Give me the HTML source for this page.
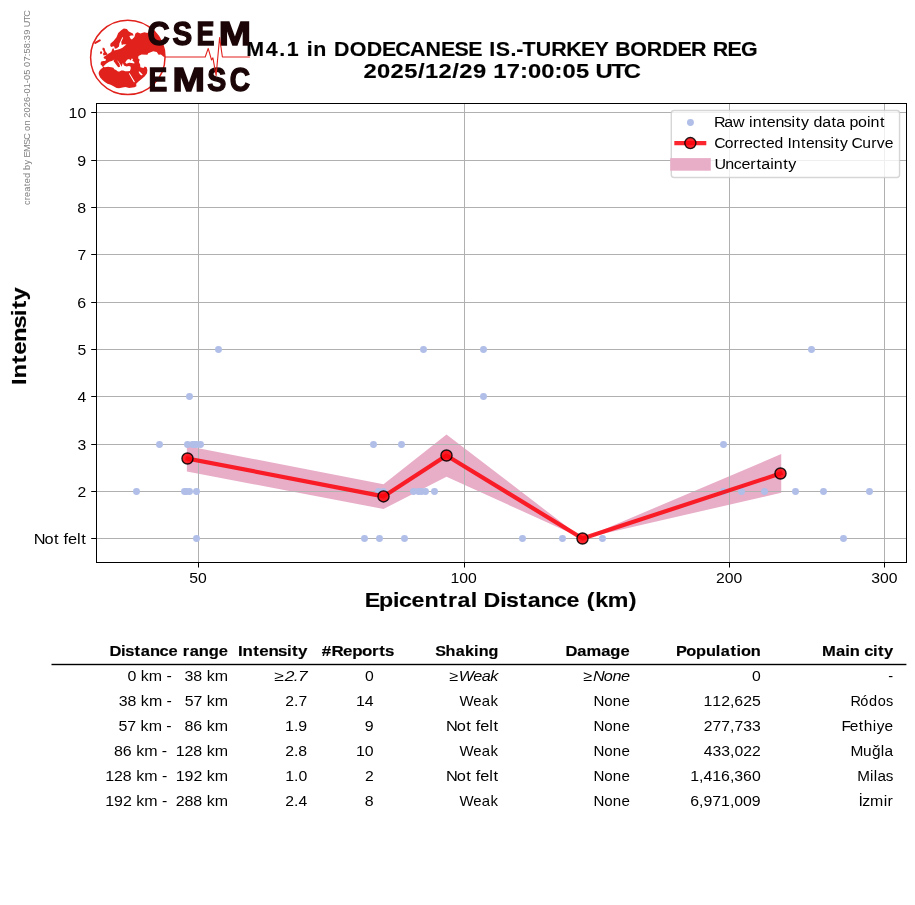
<!DOCTYPE html>
<html lang="en"><head><meta charset="utf-8"><title>M4.1 DODECANESE IS.-TURKEY BORDER REG</title>
<style>html,body{margin:0;padding:0;background:#fff;overflow:hidden}svg{display:block;will-change:transform}text{font-family:"Liberation Sans",sans-serif;white-space:pre}</style></head><body>
<svg width="915" height="905" viewBox="0 0 915 905">
<rect width="915" height="905" fill="#fff"/>
<g id="plot">
<polygon fill="#e8aec8" points="186.85,446.00 383.50,484.20 446.50,434.60 582.50,538.50 781.25,454.10 781.25,492.75 582.50,538.50 446.50,476.70 383.50,509.10 186.85,471.50"/>
<path d="M96.5 112.5H906.5M96.5 160.5H906.5M96.5 207.5H906.5M96.5 254.5H906.5M96.5 302.5H906.5M96.5 349.5H906.5M96.5 396.5H906.5M96.5 444.5H906.5M96.5 491.5H906.5M96.5 538.5H906.5M198.5 103.5V562.5M464.5 103.5V562.5M729.5 103.5V562.5M884.5 103.5V562.5" stroke="#b0b0b0" stroke-width="1" fill="none" shape-rendering="crispEdges"/>
<g fill="#b0bee8">
<circle cx="218.50" cy="349.5" r="3.45"/>
<circle cx="423.50" cy="349.5" r="3.45"/>
<circle cx="483.50" cy="349.5" r="3.45"/>
<circle cx="811.50" cy="349.5" r="3.45"/>
<circle cx="189.50" cy="396.5" r="3.45"/>
<circle cx="483.50" cy="396.5" r="3.45"/>
<circle cx="159.50" cy="444.5" r="3.45"/>
<circle cx="187.50" cy="444.5" r="3.45"/>
<circle cx="192.50" cy="444.5" r="3.45"/>
<circle cx="194.50" cy="444.5" r="3.45"/>
<circle cx="196.50" cy="444.5" r="3.45"/>
<circle cx="200.50" cy="444.5" r="3.45"/>
<circle cx="373.50" cy="444.5" r="3.45"/>
<circle cx="401.50" cy="444.5" r="3.45"/>
<circle cx="723.50" cy="444.5" r="3.45"/>
<circle cx="136.50" cy="491.5" r="3.45"/>
<circle cx="184.50" cy="491.5" r="3.45"/>
<circle cx="186.50" cy="491.5" r="3.45"/>
<circle cx="189.50" cy="491.5" r="3.45"/>
<circle cx="196.50" cy="491.5" r="3.45"/>
<circle cx="378.50" cy="491.5" r="3.45"/>
<circle cx="383.50" cy="491.5" r="3.45"/>
<circle cx="413.50" cy="491.5" r="3.45"/>
<circle cx="418.50" cy="491.5" r="3.45"/>
<circle cx="421.50" cy="491.5" r="3.45"/>
<circle cx="425.50" cy="491.5" r="3.45"/>
<circle cx="434.50" cy="491.5" r="3.45"/>
<circle cx="723.50" cy="491.5" r="3.45"/>
<circle cx="741.50" cy="491.5" r="3.45"/>
<circle cx="764.50" cy="491.5" r="3.45"/>
<circle cx="795.50" cy="491.5" r="3.45"/>
<circle cx="823.50" cy="491.5" r="3.45"/>
<circle cx="869.50" cy="491.5" r="3.45"/>
<circle cx="196.50" cy="538.5" r="3.45"/>
<circle cx="364.50" cy="538.5" r="3.45"/>
<circle cx="379.50" cy="538.5" r="3.45"/>
<circle cx="404.50" cy="538.5" r="3.45"/>
<circle cx="522.50" cy="538.5" r="3.45"/>
<circle cx="562.50" cy="538.5" r="3.45"/>
<circle cx="602.50" cy="538.5" r="3.45"/>
<circle cx="843.50" cy="538.5" r="3.45"/>
</g>
<polyline fill="none" stroke="rgba(252,4,12,0.86)" stroke-width="4.17" stroke-linejoin="round" stroke-linecap="square" points="187.50,458.50 383.50,496.40 446.50,455.50 582.50,538.50 780.50,473.50"/>
<circle cx="187.50" cy="458.50" r="5.55" fill="rgba(252,4,12,0.86)" stroke="rgba(0,0,0,0.87)" stroke-width="1.39"/>
<circle cx="383.50" cy="496.40" r="5.55" fill="rgba(252,4,12,0.86)" stroke="rgba(0,0,0,0.87)" stroke-width="1.39"/>
<circle cx="446.50" cy="455.50" r="5.55" fill="rgba(252,4,12,0.86)" stroke="rgba(0,0,0,0.87)" stroke-width="1.39"/>
<circle cx="582.50" cy="538.50" r="5.55" fill="rgba(252,4,12,0.86)" stroke="rgba(0,0,0,0.87)" stroke-width="1.39"/>
<circle cx="780.50" cy="473.50" r="5.55" fill="rgba(252,4,12,0.86)" stroke="rgba(0,0,0,0.87)" stroke-width="1.39"/>
<rect x="96.5" y="103.5" width="810.0" height="459.0" fill="none" stroke="#000" stroke-width="1" shape-rendering="crispEdges"/>
<g fill="#000"><rect x="91.2" y="112" width="5.3" height="1"/><rect x="91.2" y="160" width="5.3" height="1"/><rect x="91.2" y="207" width="5.3" height="1"/><rect x="91.2" y="254" width="5.3" height="1"/><rect x="91.2" y="302" width="5.3" height="1"/><rect x="91.2" y="349" width="5.3" height="1"/><rect x="91.2" y="396" width="5.3" height="1"/><rect x="91.2" y="444" width="5.3" height="1"/><rect x="91.2" y="491" width="5.3" height="1"/><rect x="91.2" y="538" width="5.3" height="1"/><rect x="198" y="562.5" width="1" height="5.0"/><rect x="464" y="562.5" width="1" height="5.0"/><rect x="729" y="562.5" width="1" height="5.0"/><rect x="884" y="562.5" width="1" height="5.0"/></g>
</g>
<g id="legend">
<rect x="671.3" y="110.45" width="228.25" height="67" rx="2.8" ry="2.8" fill="rgba(255,255,255,0.8)" stroke="rgba(204,204,204,0.8)" stroke-width="1.39"/>
<circle cx="690.45" cy="122.55" r="3.45" fill="#b0bee8"/>
<line x1="676.4" y1="143.1" x2="704.2" y2="143.1" stroke="rgba(252,4,12,0.86)" stroke-width="4.17" stroke-linecap="square"/>
<circle cx="690.35" cy="143.1" r="5.55" fill="rgba(252,4,12,0.86)" stroke="rgba(0,0,0,0.87)" stroke-width="1.39"/>
<rect x="670.2" y="158.1" width="40.6" height="12.6" fill="#e8aec8"/>
</g>
<g id="labels" opacity="0.999">
<text transform="translate(245.56 56.00) scale(1.0688 1)" x="0.72 18.93 31.54 38.58 50.90 57.16 63.41 76.39 82.65 97.41 113.29 127.58 139.95 153.75 168.43 182.78 195.53 208.28 221.53 228.02 234.01 247.90 253.20 259.07 271.58 285.97 300.00 313.77 326.57 340.24 345.84 359.96 375.32 389.88 404.17 416.83 431.46 437.18 450.95 463.58" font-size="20.03" font-weight="bold" stroke="#000" stroke-width="0.15" xml:space="preserve">M4.1 in DODECANESE IS.-TURKEY BORDER REG</text>
<text transform="translate(363.38 78.00) scale(1.1859 1)" x="0.18 11.56 22.94 34.43 45.97 51.93 63.42 74.96 80.92 92.35 103.68 109.48 120.92 132.11 138.79 150.07 161.21 167.88 179.26 190.64 195.68 209.07 219.66" font-size="20.03" font-weight="bold" stroke="#000" stroke-width="0.15" xml:space="preserve">2025/12/29 17:00:05 UTC</text>
<text transform="translate(365.81 607.00) scale(1.1584 1)" x="-0.96 11.31 23.49 28.58 39.37 50.59 63.40 71.04 79.19 90.50 96.27 101.70 115.96 121.00 132.25 139.72 150.83 162.38 173.17 184.65 190.84 197.99 208.95 227.09" font-size="20.03" font-weight="bold" stroke="#000" stroke-width="0.15" xml:space="preserve">Epicentral Distance (km)</text>
<text transform="translate(109.60 656.00) scale(1.1538 1)" x="-0.18 9.98 13.57 21.62 27.01 35.01 43.26 50.95 59.17 63.47 69.37 77.37 85.93 94.72" font-size="14.31" font-weight="bold" stroke="#000" stroke-width="0.15" xml:space="preserve">Distance range</text>
<text transform="translate(237.70 656.00) scale(1.1815 1)" x="0.18 4.15 13.12 18.34 26.15 34.21 41.65 46.02 51.04" font-size="14.31" font-weight="bold" stroke="#000" stroke-width="0.15" xml:space="preserve">Intensity</text>
<text transform="translate(320.45 656.00) scale(1.1813 1)" x="1.00 9.33 19.09 26.90 35.15 43.72 49.84 54.54" font-size="14.31" font-weight="bold" stroke="#000" stroke-width="0.15" xml:space="preserve">#Reports</text>
<text transform="translate(435.52 656.00) scale(1.1300 1)" x="-0.35 8.85 17.81 26.06 34.13 38.17 46.90" font-size="14.31" font-weight="bold" stroke="#000" stroke-width="0.15" xml:space="preserve">Shaking</text>
<text transform="translate(565.60 656.00) scale(1.1544 1)" x="-0.18 10.10 18.06 30.78 38.78 47.56" font-size="14.31" font-weight="bold" stroke="#000" stroke-width="0.15" xml:space="preserve">Damage</text>
<text transform="translate(676.20 656.00) scale(1.1434 1)" x="-0.29 8.80 17.33 25.97 34.69 38.88 47.52 52.84 56.69 65.22" font-size="14.31" font-weight="bold" stroke="#000" stroke-width="0.15" xml:space="preserve">Population</text>
<text transform="translate(822.02 656.00) scale(1.1575 1)" x="-0.02 12.00 20.10 23.98 32.73 36.41 43.96 48.43 53.58" font-size="14.31" font-weight="bold" stroke="#000" stroke-width="0.15" xml:space="preserve">Main city</text>
<text transform="translate(127.48 681.00) scale(1.1104 1)" x="-0.06 7.85 11.89 19.23 31.27 35.04 39.60 43.54 47.48 51.39 59.33 67.29 71.33 78.67" font-size="14.38" xml:space="preserve">0 km -   38 km</text>
<text transform="translate(273.45 681.00) scale(1.2109 1)" x="0.86 9.27 16.74 20.21" font-size="14.38" font-style="italic" xml:space="preserve">≥2.7</text>
<text transform="translate(364.90 681.00) scale(1.0945 1)" x="0.00" font-size="14.38" xml:space="preserve">0</text>
<text transform="translate(448.02 681.00) scale(1.1286 1)" x="1.21 9.61 22.25 29.78 37.50" font-size="14.38" font-style="italic" xml:space="preserve">≥Weak</text>
<text transform="translate(582.10 681.00) scale(1.1301 1)" x="1.20 9.69 19.23 26.86 34.50" font-size="14.38" font-style="italic" xml:space="preserve">≥None</text>
<text transform="translate(751.95 681.00) scale(1.0945 1)" x="0.00" font-size="14.38" xml:space="preserve">0</text>
<text transform="translate(888.26 681.00) scale(1.0184 1)" x="0.00" font-size="14.38" xml:space="preserve">-</text>
<text transform="translate(118.73 706.00) scale(1.1087 1)" x="-0.05 7.90 15.87 19.91 27.27 39.32 43.10 47.67 51.61 55.56 59.48 67.37 75.29 79.33 86.69" font-size="14.38" xml:space="preserve">38 km -   57 km</text>
<text transform="translate(285.32 706.00) scale(1.0947 1)" x="-0.00 7.99 11.99" font-size="14.38" xml:space="preserve">2.7</text>
<text transform="translate(356.02 706.00) scale(1.1023 1)" x="0.03 8.02" font-size="14.38" xml:space="preserve">14</text>
<text transform="translate(460.15 706.00) scale(1.0410 1)" x="-0.54 12.57 20.80 29.25" font-size="14.38" xml:space="preserve">Weak</text>
<text transform="translate(593.72 706.00) scale(1.0512 1)" x="-0.26 9.92 18.12 26.32" font-size="14.38" xml:space="preserve">None</text>
<text transform="translate(703.45 706.00) scale(1.1018 1)" x="0.03 8.09 16.08 24.04 28.05 36.05 43.99" font-size="14.38" xml:space="preserve">112,625</text>
<text transform="translate(851.14 706.00) scale(1.0108 1)" x="-0.74 9.11 17.71 26.30 34.43" font-size="14.38" xml:space="preserve">Ródos</text>
<text transform="translate(118.60 731.00) scale(1.1103 1)" x="-0.06 7.82 15.73 19.77 27.11 39.15 42.92 47.48 51.42 55.36 59.33 67.32 75.29 79.32 86.66" font-size="14.38" xml:space="preserve">57 km -   86 km</text>
<text transform="translate(285.08 731.00) scale(1.1072 1)" x="0.01 7.99 11.98" font-size="14.38" xml:space="preserve">1.9</text>
<text transform="translate(364.78 731.00) scale(1.1101 1)" x="0.00" font-size="14.38" xml:space="preserve">9</text>
<text transform="translate(446.78 731.00) scale(1.1373 1)" x="-0.63 8.86 17.02 21.36 25.48 29.42 37.26 40.98" font-size="14.38" xml:space="preserve">Not felt</text>
<text transform="translate(593.72 731.00) scale(1.0512 1)" x="-0.26 9.92 18.12 26.32" font-size="14.38" xml:space="preserve">None</text>
<text transform="translate(703.82 731.00) scale(1.0946 1)" x="-0.00 7.99 15.99 23.98 27.98 35.97 43.97" font-size="14.38" xml:space="preserve">277,733</text>
<text transform="translate(842.52 731.00) scale(1.0739 1)" x="-1.01 6.71 15.23 19.86 28.14 31.79 39.19" font-size="14.38" xml:space="preserve">Fethiye</text>
<text transform="translate(113.98 756.00) scale(1.1118 1)" x="-0.01 7.98 15.94 19.96 27.29 39.32 43.08 47.64 51.58 55.53 63.46 71.39 79.34 83.37 90.70" font-size="14.38" xml:space="preserve">86 km -  128 km</text>
<text transform="translate(285.20 756.00) scale(1.1009 1)" x="-0.02 7.94 11.96" font-size="14.38" xml:space="preserve">2.8</text>
<text transform="translate(356.02 756.00) scale(1.1023 1)" x="0.03 8.02" font-size="14.38" xml:space="preserve">10</text>
<text transform="translate(460.15 756.00) scale(1.0410 1)" x="-0.54 12.57 20.80 29.25" font-size="14.38" xml:space="preserve">Weak</text>
<text transform="translate(593.72 756.00) scale(1.0512 1)" x="-0.26 9.92 18.12 26.32" font-size="14.38" xml:space="preserve">None</text>
<text transform="translate(703.82 756.00) scale(1.0946 1)" x="-0.00 7.99 15.99 23.98 27.98 35.97 43.97" font-size="14.38" xml:space="preserve">433,022</text>
<text transform="translate(851.02 756.00) scale(1.0759 1)" x="-0.41 11.22 19.41 27.74 31.15" font-size="14.38" xml:space="preserve">Muğla</text>
<text transform="translate(105.23 781.00) scale(1.1103 1)" x="-0.00 7.94 15.87 23.84 27.87 35.22 47.26 51.03 55.59 59.53 63.50 71.49 79.43 87.34 91.37 98.71" font-size="14.38" xml:space="preserve">128 km -  192 km</text>
<text transform="translate(285.20 781.00) scale(1.1009 1)" x="0.03 8.05 12.01" font-size="14.38" xml:space="preserve">1.0</text>
<text transform="translate(364.90 781.00) scale(1.0945 1)" x="0.00" font-size="14.38" xml:space="preserve">2</text>
<text transform="translate(446.78 781.00) scale(1.1373 1)" x="-0.63 8.86 17.02 21.36 25.48 29.42 37.26 40.98" font-size="14.38" xml:space="preserve">Not felt</text>
<text transform="translate(593.72 781.00) scale(1.0512 1)" x="-0.26 9.92 18.12 26.32" font-size="14.38" xml:space="preserve">None</text>
<text transform="translate(690.20 781.00) scale(1.1024 1)" x="0.03 8.04 11.99 19.98 28.03 36.04 40.00 47.99 55.98" font-size="14.38" xml:space="preserve">1,416,360</text>
<text transform="translate(857.64 781.00) scale(1.0583 1)" x="-0.32 11.57 15.23 18.74 26.58" font-size="14.38" xml:space="preserve">Milas</text>
<text transform="translate(105.23 806.00) scale(1.1103 1)" x="-0.00 7.99 15.93 23.84 27.87 35.22 47.26 51.03 55.59 59.53 63.44 71.38 79.37 87.34 91.37 98.71" font-size="14.38" xml:space="preserve">192 km -  288 km</text>
<text transform="translate(285.32 806.00) scale(1.0947 1)" x="-0.00 7.99 11.99" font-size="14.38" xml:space="preserve">2.4</text>
<text transform="translate(364.78 806.00) scale(1.1101 1)" x="0.00" font-size="14.38" xml:space="preserve">8</text>
<text transform="translate(460.15 806.00) scale(1.0410 1)" x="-0.54 12.57 20.80 29.25" font-size="14.38" xml:space="preserve">Weak</text>
<text transform="translate(593.72 806.00) scale(1.0512 1)" x="-0.26 9.92 18.12 26.32" font-size="14.38" xml:space="preserve">None</text>
<text transform="translate(690.20 806.00) scale(1.1024 1)" x="0.03 8.04 12.05 20.04 28.03 36.04 40.00 47.93 55.93" font-size="14.38" xml:space="preserve">6,971,009</text>
<text transform="translate(858.64 806.00) scale(1.1080 1)" x="-0.19 3.34 10.37 22.60 26.15" font-size="14.38" xml:space="preserve">İzmir</text>
<text transform="translate(189.35 583.00) scale(1.0945 1)" x="0.00 7.99" font-size="14.38" xml:space="preserve">50</text>
<text transform="translate(450.41 583.00) scale(1.0997 1)" x="0.04 8.05 16.01" font-size="14.38" xml:space="preserve">100</text>
<text transform="translate(715.97 583.00) scale(1.0945 1)" x="0.00 7.99 15.99" font-size="14.38" xml:space="preserve">200</text>
<text transform="translate(871.28 583.00) scale(1.0945 1)" x="0.00 7.99 15.99" font-size="14.38" xml:space="preserve">300</text>
<text transform="translate(34.55 544.00) scale(1.1373 1)" x="-0.63 8.86 17.02 21.36 25.48 29.42 37.26 40.98" font-size="14.38" xml:space="preserve">Not felt</text>
<text transform="translate(77.43 497.00) scale(1.0945 1)" x="0.00" font-size="14.38" xml:space="preserve">2</text>
<text transform="translate(77.43 450.00) scale(1.0945 1)" x="0.00" font-size="14.38" xml:space="preserve">3</text>
<text transform="translate(77.43 402.00) scale(1.0945 1)" x="0.00" font-size="14.38" xml:space="preserve">4</text>
<text transform="translate(77.43 355.00) scale(1.0945 1)" x="0.00" font-size="14.38" xml:space="preserve">5</text>
<text transform="translate(77.30 308.00) scale(1.1101 1)" x="0.00" font-size="14.38" xml:space="preserve">6</text>
<text transform="translate(77.43 260.00) scale(1.0945 1)" x="0.00" font-size="14.38" xml:space="preserve">7</text>
<text transform="translate(77.30 213.00) scale(1.1101 1)" x="0.00" font-size="14.38" xml:space="preserve">8</text>
<text transform="translate(77.30 166.00) scale(1.1101 1)" x="0.00" font-size="14.38" xml:space="preserve">9</text>
<text transform="translate(68.55 118.00) scale(1.1023 1)" x="0.03 8.02" font-size="14.38" xml:space="preserve">10</text>
<text transform="translate(715.15 127.00) scale(1.1137 1)" x="-0.98 8.29 16.08 26.34 30.45 33.72 42.11 46.40 54.14 61.68 68.61 72.42 77.00 84.26 88.21 96.07 104.41 108.75 116.59 120.54 128.34 136.29 139.56 147.96" font-size="14.38" xml:space="preserve">Raw intensity data point</text>
<text transform="translate(715.15 148.00) scale(1.0936 1)" x="-0.73 8.80 16.81 21.84 26.64 34.41 42.01 46.41 54.35 62.41 66.24 70.07 78.59 82.99 90.87 98.54 105.56 109.45 114.14 121.51 124.77 134.42 142.66 147.86 155.11" font-size="14.38" xml:space="preserve">Corrected Intensity Curve</text>
<text transform="translate(715.15 169.00) scale(1.1176 1)" x="-0.66 8.98 16.71 23.52 31.50 36.93 41.25 49.24 52.49 60.86 65.42" font-size="14.38" xml:space="preserve">Uncertainty</text>
<text transform="translate(26.30 385.30) rotate(-90) scale(1.1885 1)" x="0.22 5.72 18.28 25.61 36.53 47.75 58.17 64.34 71.42" font-size="20.03" font-weight="bold" stroke="#000" stroke-width="0.15" xml:space="preserve">Intensity</text>
<text transform="translate(30.06 205.00) rotate(-90) scale(1.0652 1)" x="0.01 4.49 7.58 12.45 17.58 20.37 25.35 30.31 32.86 37.98 42.51 44.53 49.68 56.27 61.25 67.16 69.59 74.52 79.48 81.98 86.90 91.83 96.82 101.71 104.62 109.55 114.39 117.30 122.23 127.12 129.62 134.61 139.62 142.18 147.16 152.18 154.79 159.78 164.67 166.87 172.33 176.72" font-size="8.62" fill="#808080" xml:space="preserve">created by EMSC on 2026-01-05 07:58:39 UTC</text>
</g>
<rect x="51.5" y="663.8" width="854.9" height="1.4" fill="#000"/>
<g id="logo" opacity="0.999">
<clipPath id="gc"><circle cx="127.8" cy="57.4" r="37.2"/></clipPath>
<g clip-path="url(#gc)"><path fill="#e1211c" d="M110.5 43.5L113.5 40.9L116.5 37.2L118.2 32.9L121.2 30.3L123.8 28.6L126.8 29.1L128.8 31.6L132.8 33.6L133.7 35.4L131.1 35.4L129.4 36.0L130.4 38.6L131.9 39.5L134.4 36.9L135.4 33.6L137.4 32.3L140.4 33.6L144.4 32.3L147.3 33.1L150.0 31.0L172.0 31.0L172.0 56.7L163.6 56.7L160.9 54.4L158.6 54.8L156.7 52.1L153.2 51.3L150.1 52.5L148.2 53.2L147.4 54.8L141.6 54.4L138.5 55.9L138.1 58.3L139.7 59.8L138.9 62.1L140.1 64.4L140.4 67.2L143.5 67.9L144.7 66.4L146.6 67.2L147.4 69.9L147.0 73.3L144.8 76.2L141.6 79.1L138.5 81.5L136.2 83.8L136.4 86.2L134.5 87.3L129.1 88.0L125.5 87.0L122.5 87.4L119.0 88.2L116.6 88.0L113.5 86.2L110.7 84.8L107.5 83.8L104.8 82.1L102.2 79.8L100.2 77.5L99.0 75.0L98.6 73.0L99.2 71.2L99.9 70.3L101.2 68.8L102.9 67.7L102.3 66.1L100.6 64.4L100.7 62.8L101.3 61.4L103.5 61.0L105.4 61.1L105.9 59.1L103.9 58.4L103.6 57.1L105.6 55.8L107.9 54.1L111.2 52.1L112.0 50.0L112.6 48.6L113.8 48.6L114.0 50.5L117.2 49.8L119.8 49.0L122.5 47.8L125.1 45.5L126.5 44.5L123.8 44.2L121.8 44.9L121.2 41.9L122.8 38.6L123.1 36.9L122.2 37.4L120.8 40.4L119.4 43.6L119.0 46.4L116.9 48.3L114.9 48.8L114.2 46.5L113.5 46.2L111.2 47.0L110.2 45.8ZM102.9 47.5L104.6 48.2L105.4 51.2L107.4 53.8L106.9 54.8L103.6 55.5L102.9 53.8L103.9 52.5L103.2 50.5L102.3 49.2ZM100.3 51.5L101.6 51.2L102.3 53.1L100.9 54.3L99.9 53.1Z"/>
<path fill="#fff" d="M103.2 66.7L105.8 64.1L109.1 61.8L111.7 61.1L114.0 59.8L116.3 60.3L118.0 61.1L120.2 64.1L121.6 66.7L122.2 64.8L122.9 63.1L123.9 65.4L126.5 66.4L129.1 66.1L130.7 66.7L130.7 69.0L129.8 71.0L127.8 71.3L125.2 71.3L123.2 70.5L121.2 70.5L119.6 71.6L118.0 71.5L116.0 70.0L114.3 69.3L113.4 67.8L111.4 67.2L108.1 66.7L104.8 67.2ZM125.2 62.5L127.1 59.8L129.1 58.9L130.7 60.5L131.7 58.5L133.0 58.9L132.4 60.8L134.3 62.1L134.3 63.4L131.7 63.1L129.1 62.8L126.5 63.8ZM128.8 73.6L129.7 73.3L134.9 81.8L134.0 82.4ZM138.5 71.8L139.6 71.5L142.6 74.6L142.0 75.6L140.0 74.5Z"/>
<path fill="#e1211c" d="M113.6 59.4L116.8 59.8L118.2 61.9L119.5 64.0L120.0 66.8L118.2 67.2L116.6 65.2L115.0 63.0L113.8 61.2Z"/>
<path d="M95.3 42.9L99.8 40.4" stroke="#e1211c" stroke-width="2" stroke-linecap="round"/></g>
<circle cx="127.8" cy="57.4" r="37.2" fill="none" stroke="#e1211c" stroke-width="1.5"/>
<text transform="translate(147.49 45.45) scale(0.948 1)" font-size="32.41" font-weight="bold" fill="#1b0506" stroke="#1b0506" stroke-width="1.3" stroke-linejoin="miter">C</text>
<text transform="translate(172.60 45.45) scale(0.911 1)" font-size="32.41" font-weight="bold" fill="#1b0506" stroke="#1b0506" stroke-width="1.3" stroke-linejoin="miter">S</text>
<text transform="translate(196.55 45.45) scale(0.830 1)" font-size="32.41" font-weight="bold" fill="#1b0506" stroke="#1b0506" stroke-width="1.3" stroke-linejoin="miter">E</text>
<text transform="translate(218.76 45.45) scale(1.196 1)" font-size="32.41" font-weight="bold" fill="#1b0506" stroke="#1b0506" stroke-width="1.3" stroke-linejoin="miter">M</text>
<text transform="translate(148.57 90.94999999999999) scale(0.861 1)" font-size="32.70" font-weight="bold" fill="#1b0506" stroke="#1b0506" stroke-width="1.3" stroke-linejoin="miter">E</text>
<text transform="translate(172.44 90.94999999999999) scale(1.194 1)" font-size="32.70" font-weight="bold" fill="#1b0506" stroke="#1b0506" stroke-width="1.3" stroke-linejoin="miter">M</text>
<text transform="translate(207.33 90.94999999999999) scale(0.873 1)" font-size="32.70" font-weight="bold" fill="#1b0506" stroke="#1b0506" stroke-width="1.3" stroke-linejoin="miter">S</text>
<text transform="translate(229.70 90.94999999999999) scale(0.861 1)" font-size="32.70" font-weight="bold" fill="#1b0506" stroke="#1b0506" stroke-width="1.3" stroke-linejoin="miter">C</text>
<path d="M165 57H205.2L208.2 48.4L211.5 59.9L212.9 57.9L216.1 75.6L219.6 37.6L222.4 57H249.9" fill="none" stroke="#e1211c" stroke-width="1.1" stroke-linejoin="round"/>
</g>
</svg></body></html>
